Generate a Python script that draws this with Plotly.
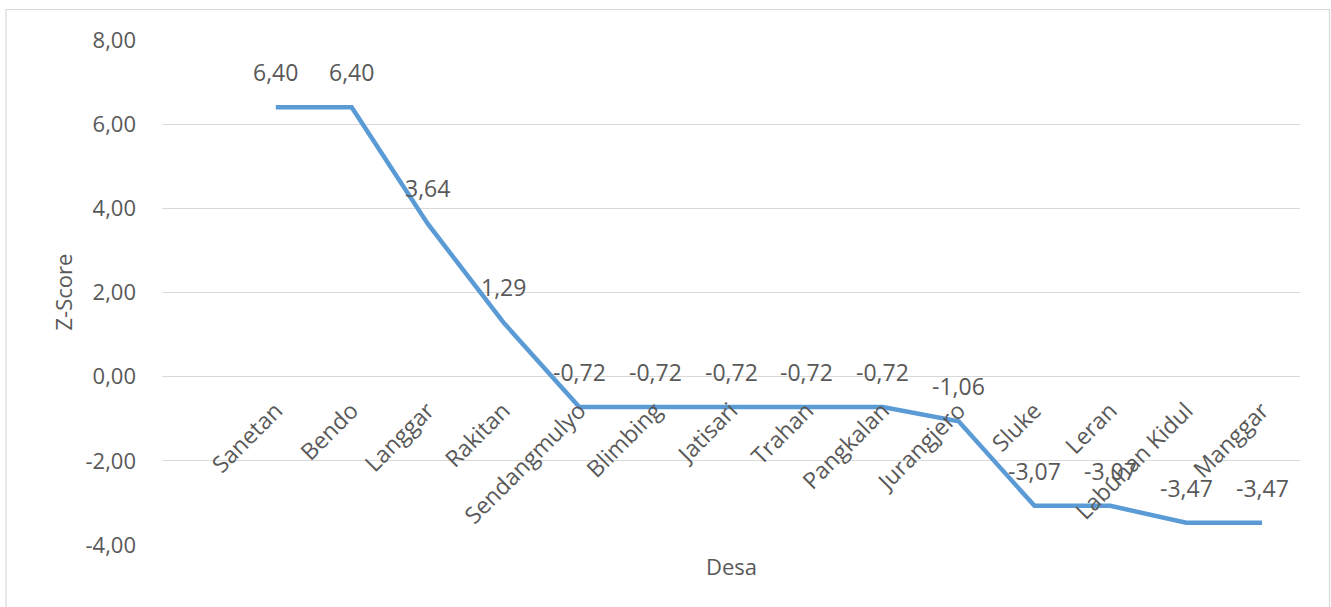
import plotly.graph_objects as go

# Z-score per desa
desa = ["Sanetan", "Bendo", "Langgar", "Rakitan", "Sendangmulyo", "Blimbing",
        "Jatisari", "Trahan", "Pangkalan", "Jurangjero", "Sluke", "Leran",
        "Labuhan Kidul", "Manggar"]
z_score = [6.40, 6.40, 3.64, 1.29, -0.72, -0.72, -0.72, -0.72, -0.72,
           -1.06, -3.07, -3.07, -3.47, -3.47]
y_ticks = [-4, -2, 0, 2, 4, 6, 8]

FONT = "Open Sans"
SIZE = 23
TEXT = "#595959"
GRID = "#d9d9d9"
LINE = "#5b9bd5"

W, H = 1331, 607
L, R, T, B = 162, 31, 40, 62
pw, ph = W - L - R, H - T - B


def fmt(v):
    # comma decimal separator with a plain hyphen for negatives
    return f"{v:.2f}".replace(".", ",")


def py(pixel_y):
    return (T + ph - pixel_y) / ph


def px(pixel_x):
    return (pixel_x - L) / pw


fig = go.Figure()
fig.add_trace(go.Scatter(
    x=desa, y=z_score, mode="lines",
    line=dict(color=LINE, width=4.5),
    hoverinfo="skip", showlegend=False,
))

annotations = []
for d, v in zip(desa, z_score):
    annotations.append(dict(
        x=d, y=v, xref="x", yref="y", text=fmt(v), showarrow=False,
        yanchor="bottom", xanchor="center", yshift=17,
        font=dict(family=FONT, size=SIZE, color=TEXT),
    ))

# axis titles
annotations.append(dict(
    x=0.5, y=py(566), xref="paper", yref="paper",
    text="Desa", showarrow=False, yanchor="middle", xanchor="center",
    font=dict(family=FONT, size=SIZE - 1, color=TEXT),
))
annotations.append(dict(
    x=px(62), y=0.5, xref="paper", yref="paper", text="Z-Score",
    showarrow=False, textangle=-90, xanchor="center", yanchor="middle",
    font=dict(family=FONT, size=SIZE - 1, color=TEXT),
))

fig.update_layout(
    width=W, height=H,
    margin=dict(l=L, r=R, t=T, b=B),
    paper_bgcolor="white", plot_bgcolor="white",
    font=dict(family=FONT, size=SIZE, color=TEXT),
    annotations=annotations,
    shapes=[dict(
        type="rect", xref="paper", yref="paper",
        x0=px(6), x1=px(1329.5),
        y0=py(H + 10), y1=py(9.5),
        line=dict(color=GRID, width=1.2), fillcolor="rgba(0,0,0,0)",
        layer="below",
    )],
    xaxis=dict(
        type="category", range=[-1.5, 13.5],
        anchor="free", position=4 / 12,
        showgrid=False, showline=False, zeroline=False,
        ticks="", tickangle=-45, ticklabelstandoff=15,
        tickfont=dict(family=FONT, size=SIZE, color=TEXT),
    ),
    yaxis=dict(
        range=[-4, 8], tickvals=y_ticks, ticktext=[fmt(t) for t in y_ticks],
        showgrid=True, gridcolor=GRID, gridwidth=1.3,
        zeroline=False, showline=False, ticks="",
        ticklabelstandoff=25,
        tickfont=dict(family=FONT, size=SIZE - 1, color=TEXT),
    ),
)

fig.write_html("out.html")
